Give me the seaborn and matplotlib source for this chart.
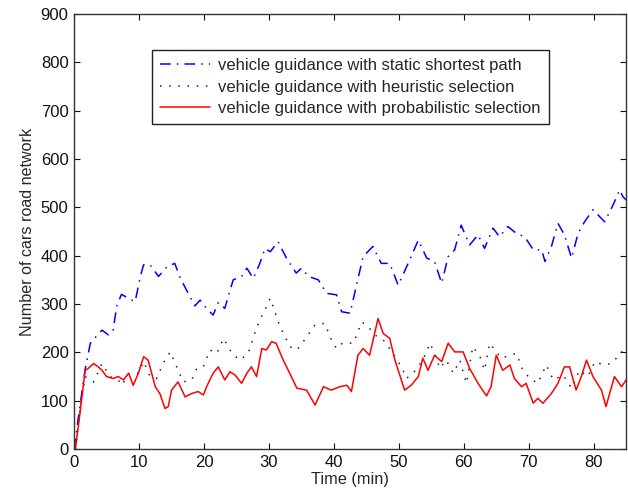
import matplotlib
matplotlib.use("Agg")
import matplotlib.pyplot as plt
import seaborn as sns
import pandas as pd

# ---- data ----
static_t = [0, 0.8, 1.7, 2.5, 3.2, 4.3, 5.3, 6.0, 6.6, 7.3,
            8.6, 9.4, 10.2, 10.7, 11.7, 13.0, 14.3, 15.5, 16.3, 17.3,
            18.6, 19.4, 20.4, 21.4, 22.2, 23.2, 24.5, 25.8, 26.6, 27.6,
            28.6, 29.4, 30.2, 31.4, 32.7, 34.2, 35.0, 36.1, 37.6, 38.9,
            40.4, 41.2, 42.5, 43.5, 44.5, 46.0, 47.3, 48.6, 49.9, 51.2,
            53.0, 54.3, 55.5, 56.6, 57.6, 58.6, 59.6, 60.9, 62.2, 63.2,
            64.5, 65.5, 66.8, 68.1, 69.4, 70.7, 72.0, 72.5, 73.5, 74.5,
            75.5, 76.6, 77.6, 78.6, 79.9, 80.9, 81.7, 83.0, 84.0, 84.5,
            85.0]
static_v = [0, 80, 165, 219, 230, 246, 236, 246, 298, 320,
            310, 305, 357, 381, 381, 357, 377, 384, 355, 329,
            296, 308, 291, 277, 303, 291, 350, 357, 374, 353,
            384, 415, 408, 429, 395, 364, 374, 357, 350, 322,
            319, 284, 281, 340, 398, 419, 384, 384, 339, 377,
            432, 395, 388, 343, 398, 412, 463, 422, 443, 415,
            457, 439, 460, 446, 439, 412, 412, 388, 419, 467,
            443, 395, 446, 470, 495, 481, 470, 505, 536, 522,
            515]

heur_t = [0.2, 1.0, 1.7, 3.0, 4.3, 5.5, 6.8, 7.3, 8.6, 9.9,
          10.7, 11.7, 12.7, 13.7, 14.8, 15.8, 16.8, 18.1, 18.9, 19.9,
          20.9, 22.0, 23.0, 24.3, 25.5, 26.8, 27.8, 28.6, 29.4, 30.2,
          30.9, 31.7, 32.5, 33.2, 34.3, 35.5, 37.1, 38.6, 39.6, 40.4,
          41.4, 43.0, 44.3, 45.3, 46.3, 47.6, 49.1, 50.4, 51.2, 52.6,
          53.7, 54.8, 55.5, 56.3, 57.3, 58.4, 59.4, 60.4, 61.4, 62.5,
          63.2, 64.0, 65.0, 65.8, 67.1, 68.1, 69.1, 70.2, 71.4, 72.7,
          73.8, 75.3, 76.6, 77.8, 79.1, 80.2, 81.5, 82.7, 83.5, 84.3,
          85.0]
heur_v = [0, 90, 150, 139, 177, 150, 143, 132, 157, 157,
          181, 150, 146, 177, 201, 170, 139, 143, 167, 170,
          205, 198, 229, 198, 184, 198, 239, 267, 288, 312,
          284, 253, 232, 212, 205, 226, 257, 260, 226, 208,
          220, 219, 263, 253, 236, 226, 198, 170, 146, 163,
          184, 219, 198, 167, 184, 157, 184, 136, 212, 191,
          163, 219, 201, 188, 194, 198, 163, 146, 136, 174,
          143, 153, 126, 163, 150, 181, 174, 177, 188, 201,
          194]

prob_t = [0.2, 0.9, 1.7, 2.2, 3.0, 3.7, 4.3, 5.0, 6.0, 6.8,
          7.6, 8.4, 9.1, 9.9, 10.7, 11.4, 12.5, 13.2, 14.0, 14.5,
          15.0, 16.0, 17.1, 18.1, 19.1, 19.9, 20.4, 21.4, 22.2, 23.2,
          24.0, 24.8, 25.8, 26.6, 27.3, 28.1, 28.9, 29.6, 30.4, 31.1,
          32.2, 33.2, 34.3, 35.8, 37.1, 38.4, 39.6, 40.9, 42.0, 42.7,
          43.7, 44.5, 45.5, 46.8, 47.6, 48.6, 49.4, 50.9, 51.9, 53.0,
          53.7, 54.5, 55.5, 56.6, 57.6, 58.6, 59.9, 60.9, 62.2, 63.5,
          64.2, 65.0, 66.0, 67.1, 67.8, 68.9, 69.6, 70.7, 71.4, 72.2,
          73.5, 74.5, 75.5, 76.3, 77.3, 78.1, 78.9, 79.9, 81.2, 81.9,
          83.2, 84.3, 85.0]
prob_v = [0, 74, 163, 167, 177, 170, 163, 150, 146, 150,
          143, 157, 132, 157, 191, 184, 129, 115, 84, 88,
          122, 139, 108, 115, 119, 112, 129, 157, 170, 143,
          160, 153, 136, 157, 170, 150, 208, 205, 222, 219,
          184, 157, 126, 122, 91, 129, 122, 129, 132, 119,
          194, 208, 194, 270, 239, 229, 184, 122, 132, 150,
          188, 163, 194, 181, 219, 201, 201, 167, 136, 110,
          129, 194, 163, 174, 146, 129, 136, 95, 105, 95,
          115, 136, 170, 170, 122, 150, 184, 150, 122, 88,
          150, 129, 143]

labels = ["vehicle guidance with static shortest path",
          "vehicle guidance with heuristic selection",
          "vehicle guidance with probabilistic selection"]
x_ticks = list(range(0, 81, 10))
y_ticks = list(range(0, 901, 100))

# ---- plotting ----
sns.set_style("ticks")
plt.rcParams['font.family'] = ['Liberation Sans', 'DejaVu Sans']
plt.rcParams['axes.edgecolor'] = '#333333'

fig = plt.figure(figsize=(6.28, 4.93), dpi=100)
ax = fig.add_axes([0.118, 0.089, 0.879, 0.883])

df_s = pd.DataFrame({"t": static_t, "v": static_v})
df_h = pd.DataFrame({"t": heur_t, "v": heur_v})
df_p = pd.DataFrame({"t": prob_t, "v": prob_v})

sns.lineplot(data=df_s, x="t", y="v", ax=ax, color="#0000ff", lw=1.1,
             linestyle=(0, (7, 4, 1, 4)), label=labels[0], sort=False)
sns.lineplot(data=df_h, x="t", y="v", ax=ax, color="#222222", lw=1.1,
             linestyle=(0, (1, 5)), label=labels[1], sort=False)
sns.lineplot(data=df_p, x="t", y="v", ax=ax, color="#ff0000", lw=1.1,
             linestyle="-", label=labels[2], sort=False)

ax.set_xlim(0, 85)
ax.set_ylim(0, 900)
ax.set_xticks(x_ticks)
ax.set_yticks(y_ticks)
ax.set_xlabel("Time (min)", fontsize=11.8, labelpad=2)
ax.set_ylabel("Number of cars road network", fontsize=11.6, labelpad=4)
ax.tick_params(direction="in", length=4, width=0.8, labelsize=12,
               top=True, right=True, colors="#111111", pad=4)
for sp in ax.spines.values():
    sp.set_visible(True)
    sp.set_linewidth(1.0)

leg = ax.legend(loc="upper left", bbox_to_anchor=(0.141, 0.917),
                borderaxespad=0, frameon=True, fancybox=False,
                edgecolor="#222222", framealpha=1, fontsize=12,
                handlelength=3.0, handletextpad=0.45, labelspacing=0.38,
                borderpad=0.5)
leg.get_frame().set_linewidth(1.0)

fig.savefig("out.png", dpi=100)
